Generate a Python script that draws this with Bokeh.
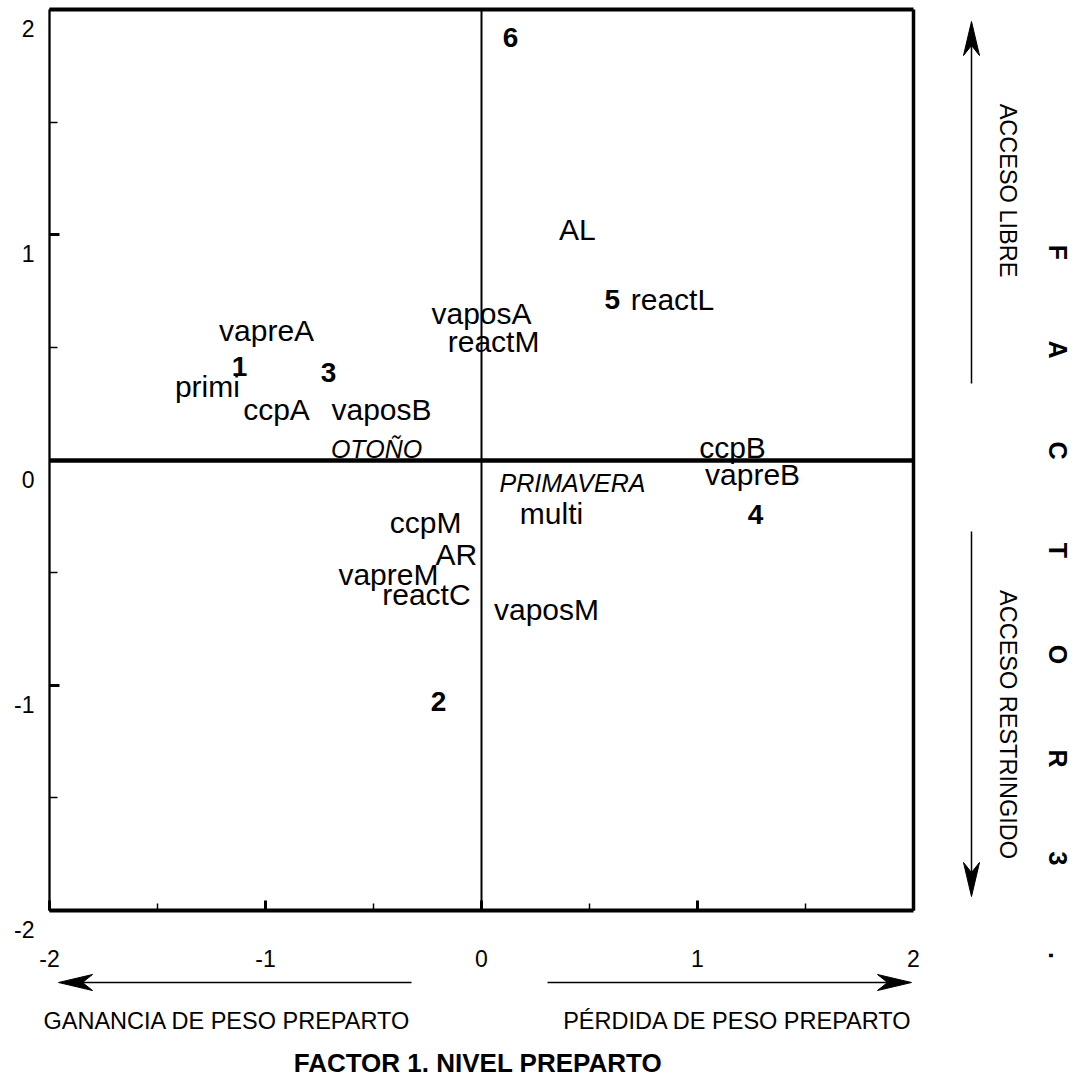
import math
from bokeh.plotting import figure
from bokeh.models import (Range1d, FixedTicker, LinearAxis, Arrow,
                          ColumnDataSource, CustomJSTickFormatter)
from bokeh.core.properties import value
from bokeh.embed import file_html
from bokeh.resources import INLINE

FONT = "Liberation Sans"

# ---- data -------------------------------------------------------------
var_labels = ["vapreA", "primi", "ccpA", "vaposB", "vaposA", "reactM", "AL", "reactL",
              "ccpB", "vapreB", "multi", "ccpM", "AR", "vapreM", "reactC", "vaposM"]
var_x = [-0.995, -1.269, -0.949, -0.463, 0.0, 0.056, 0.444, 0.884,
         1.162, 1.255, 0.324, -0.259, -0.116, -0.431, -0.255, 0.301]
var_y = [0.576, 0.327, 0.225, 0.225, 0.652, 0.527, 1.025, 0.714,
         0.056, -0.064, -0.237, -0.277, -0.420, -0.508, -0.597, -0.664]

group_labels = ["1", "2", "3", "4", "5", "6"]
group_x = [-1.12, -0.199, -0.708, 1.269, 0.606, 0.134]
group_y = [0.416, -1.073, 0.389, -0.242, 0.714, 1.874]

season_labels = ["OTOÑO", "PRIMAVERA"]
season_x = [-0.486, 0.421]
season_y = [0.048, -0.104]

xtick_vals = [-2, -1, 0, 1, 2]
xtick_labels = ["-2", "-1", "0", "1", "2"]
xtick_minor = [-1.5, -0.5, 0.5, 1.5]
ytick_vals = [2, 1, 0, -1, -2]
ytick_labels = ["2", "1", "0", "-1", "-2"]
ytick_minor = [1.5, 0.5, -0.5, -1.5]

factor3_letters = ["F", "A", "C", "T", "O", "R", "3", "."]

# ---- layout: the plotting box (-2..2 on both axes) sits at these pixels ----
W, H = 1081, 1079
BOX_L, BOX_T, BOX_W, BOX_H = 49, 9, 864, 901
SX, SY = BOX_W / 4.0, BOX_H / 4.0


def px2x(px):
    return (px - BOX_L) / SX - 2


def py2y(py):
    return 2 - (py - BOX_T) / SY


p = figure(x_range=Range1d(px2x(0), px2x(W)), y_range=Range1d(py2y(H), py2y(0)),
           frame_width=W, frame_height=H,
           min_border_left=0, min_border_right=0, min_border_top=0, min_border_bottom=0,
           x_axis_location=None, y_axis_location=None,
           output_backend="svg", toolbar_location=None)
p.grid.visible = False
p.outline_line_color = None
p.background_fill_color = "white"
p.border_fill_color = "white"

blank = lambda: CustomJSTickFormatter(code="return ''")

# bottom axis of the box
xa = LinearAxis(fixed_location=-2, bounds=(-2, 2),
                ticker=FixedTicker(ticks=xtick_vals, minor_ticks=xtick_minor),
                major_label_overrides=dict(zip(xtick_vals, xtick_labels)),
                axis_line_width=4, axis_line_color="black",
                major_tick_in=10, major_tick_out=0, major_tick_line_width=3,
                minor_tick_in=7, minor_tick_out=0, minor_tick_line_width=1.5,
                major_label_text_font=FONT, major_label_text_font_size="23px",
                major_label_text_color="black", major_label_standoff=39,
                axis_label="FACTOR 1.  NIVEL PREPARTO", axis_label_text_font=FONT,
                axis_label_text_font_style="bold", axis_label_text_font_size="26px",
                axis_label_text_color="black", axis_label_standoff=78)
p.add_layout(xa, "below")

# left axis of the box (labels drawn below their ticks, as in the reference)
ya = LinearAxis(fixed_location=-2, bounds=(-2, 2),
                ticker=FixedTicker(ticks=ytick_vals, minor_ticks=ytick_minor),
                formatter=blank(), major_label_standoff=0,
                axis_line_width=2.3, axis_line_color="black",
                major_tick_in=10, major_tick_out=0, major_tick_line_width=3,
                minor_tick_in=8, minor_tick_out=0, minor_tick_line_width=1.5)
p.add_layout(ya, "left")

# top and right edges, and the two zero lines
for side, loc, w in (("above", 2, 4), ("right", 2, 3.5), ("below", 0, 4.5), ("left", 0, 2)):
    p.add_layout(LinearAxis(fixed_location=loc, bounds=(-2, 2), ticker=FixedTicker(ticks=[]),
                            formatter=blank(), axis_line_width=w, axis_line_color="black",
                            major_tick_in=0, major_tick_out=0, minor_tick_in=0,
                            minor_tick_out=0, major_label_standoff=0), side)

# y tick labels
ysrc = ColumnDataSource(dict(x=[-2] * len(ytick_vals), y=ytick_vals, text=ytick_labels))
p.text(x="x", y="y", text="text", source=ysrc, x_offset=-15, y_offset=19,
       text_align="right", text_baseline="middle", text_font=value(FONT),
       text_font_size="23px", text_color="black")

# variable labels
vsrc = ColumnDataSource(dict(x=var_x, y=var_y, text=var_labels))
p.text(x="x", y="y", text="text", source=vsrc, text_align="center", text_baseline="alphabetic",
       text_font=value(FONT), text_font_size="30px", text_color="black")

# group numbers
gsrc = ColumnDataSource(dict(x=group_x, y=group_y, text=group_labels))
p.text(x="x", y="y", text="text", source=gsrc, text_align="center", text_baseline="alphabetic",
       text_font=value(FONT), text_font_size="28px", text_font_style="bold", text_color="black")

# seasons
ssrc = ColumnDataSource(dict(x=season_x, y=season_y, text=season_labels))
p.text(x="x", y="y", text="text", source=ssrc, text_align="center", text_baseline="alphabetic",
       text_font=value(FONT), text_font_size="25px", text_font_style="italic", text_color="black")

# ---- direction arrows and their captions ------------------------------
arrows = [
    ((971, 383), (971, 21)),
    ((971, 531), (971, 896)),
    ((411, 982), (58, 982)),
    ((547, 982), (911, 982)),
]
HEAD_LEN, HEAD_HALF_W, NOTCH = 34, 8, 24
head_xs, head_ys = [], []
for (xs, ys), (xe, ye) in arrows:
    L = math.hypot(xe - xs, ye - ys)
    dx, dy = (xe - xs) / L, (ye - ys) / L
    nx, ny = -dy, dx
    pts = [(xe, ye),
           (xe - HEAD_LEN * dx + HEAD_HALF_W * nx, ye - HEAD_LEN * dy + HEAD_HALF_W * ny),
           (xe - NOTCH * dx, ye - NOTCH * dy),
           (xe - HEAD_LEN * dx - HEAD_HALF_W * nx, ye - HEAD_LEN * dy - HEAD_HALF_W * ny)]
    head_xs.append([px2x(a) for a, b in pts])
    head_ys.append([py2y(b) for a, b in pts])
    p.add_layout(Arrow(end=None, x_start=px2x(xs), y_start=py2y(ys),
                       x_end=px2x(xe - NOTCH * dx), y_end=py2y(ye - NOTCH * dy),
                       line_color="black", line_width=1.5))
p.patches(xs=head_xs, ys=head_ys, fill_color="black", line_color="black", line_width=1)

side_src = ColumnDataSource(dict(x=[px2x(1007.5)] * 2, y=[py2y(190), py2y(724)],
                                 text=["ACCESO LIBRE", "ACCESO RESTRINGIDO"]))
p.text(x="x", y="y", text="text", source=side_src, angle=-math.pi / 2,
       text_align="center", text_baseline="middle", text_font=value(FONT),
       text_font_size="23.5px", text_color="black")

f3_py = [252, 349, 450, 550, 654, 758, 858, 955]
f3_src = ColumnDataSource(dict(x=[px2x(1057)] * len(factor3_letters),
                               y=[py2y(v) for v in f3_py], text=factor3_letters))
p.text(x="x", y="y", text="text", source=f3_src, angle=-math.pi / 2,
       text_align="center", text_baseline="middle", text_font=value(FONT),
       text_font_size="25px", text_font_style="bold", text_color="black")

bot_src = ColumnDataSource(dict(x=[px2x(226.5), px2x(737)], y=[py2y(1020)] * 2,
                                text=["GANANCIA DE PESO PREPARTO", "PÉRDIDA DE PESO PREPARTO"]))
p.text(x="x", y="y", text="text", source=bot_src,
       text_align="center", text_baseline="middle", text_font=value(FONT),
       text_font_size="23.5px", text_color="black")

open("out.html", "w").write(file_html(p, INLINE))
